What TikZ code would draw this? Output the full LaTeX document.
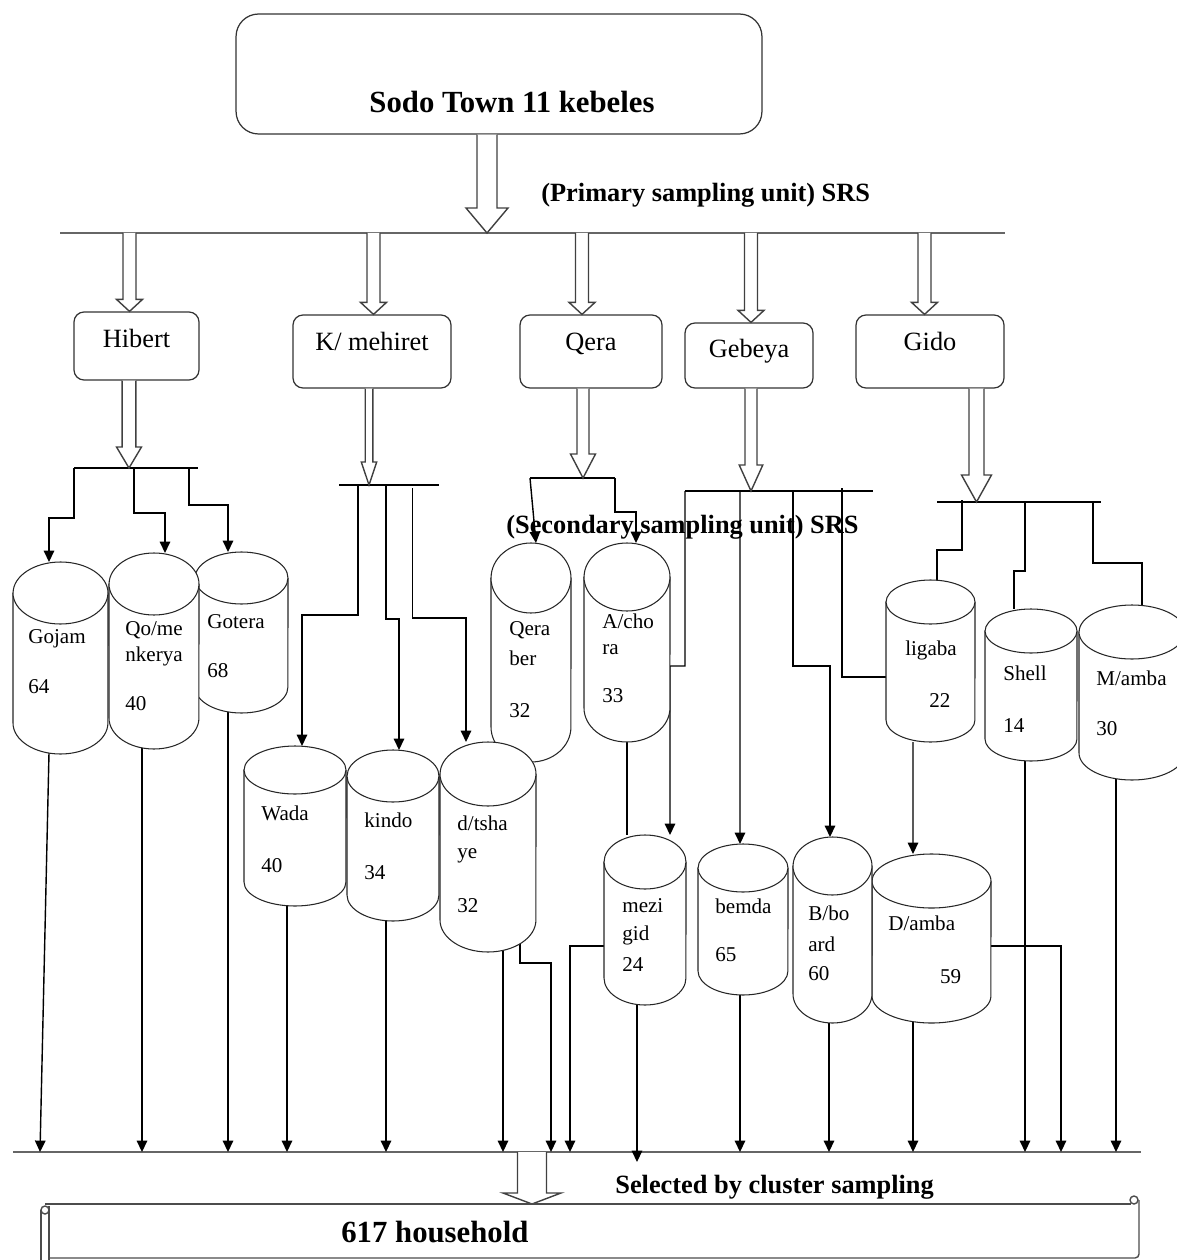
\documentclass[tikz,border=0pt]{standalone}
\usepackage{fontspec}
\setmainfont{Liberation Serif}
\usetikzlibrary{arrows.meta,calc,backgrounds}

\newdimen\pxu \pxu=0.02cm

% cylinder: name, left, right, top, bottom, cap half-height (all in px)
\newcommand\drum[6]{%
  \pgfmathsetmacro\drumrx{(#3-#2)*0.01}%
  \pgfmathsetmacro\drumry{#6*0.02}%
  \pgfmathsetmacro\drumw{(#3-#2)*0.02}%
  \pgfmathsetmacro\drumh{(#5-#4)*0.02}%
  \filldraw[drumline] (#2,#4+#6) -- (#2,#5-#6)
    arc[start angle=180, end angle=360, x radius=\drumrx cm, y radius=\drumry cm]
    -- (#3,#4+#6)
    arc[start angle=0, end angle=180, x radius=\drumrx cm, y radius=\drumry cm] -- cycle;
  \draw[drumline] (#2,#4+#6)
    arc[start angle=180, end angle=360, x radius=\drumrx cm, y radius=\drumry cm];
  \node[drumbox, minimum width=\drumw cm, minimum height=\drumh cm] (#1)
    at ({(#2+#3)/2},{(#4+#5)/2}) {};
}

% hollow arrow: tail, tip, shaft half-width, head half-width, head length (px)
\newcommand\fatarrow[5]{%
  \draw[fat] let \p1=(#1), \p2=(#2) in
    ({\x1-#3*\pxu},\y1) -- ({\x1-#3*\pxu},{\y2+#5*\pxu}) -- ({\x1-#4*\pxu},{\y2+#5*\pxu})
    -- (\x1,\y2) -- ({\x1+#4*\pxu},{\y2+#5*\pxu}) -- ({\x1+#3*\pxu},{\y2+#5*\pxu})
    -- ({\x1+#3*\pxu},\y1);
}

% straight drop from a cylinder to the bottom line
\newcommand\drop[2]{%
  \draw[arrw] ($(#1.center)+(#2,0)$) -- ($(#1.center |- botw)+(#2,0)$);
}

\begin{document}
\begin{tikzpicture}[x=0.02cm, y=-0.02cm,
  kebox/.style={draw=black!80, line width=0.7pt, rounded corners=0.2cm, inner sep=0pt,
                text height=0.7cm, font=\fontsize{15}{18}\selectfont},
  drumline/.style={draw=black!85, line width=0.6pt, fill=white},
  drumbox/.style={inner sep=0pt, outer sep=0pt},
  drumtext/.style={inner sep=0pt, anchor=north west, align=left,
                   font=\fontsize{12}{14}\selectfont},
  headline/.style={inner sep=0pt, anchor=base west,
                   font=\fontsize{15}{18}\selectfont\bfseries},
  fat/.style={draw=black!75, line width=0.8pt, fill=white},
  bus/.style={draw=black!60, line width=0.9pt},
  wire/.style={draw=black, line width=0.8pt},
  arrw/.style={wire, -{Triangle[length=6.5pt,width=6pt]}},
  scroll/.style={draw=black!70, line width=0.8pt},
]
\useasboundingbox (0,0) rectangle (1176,1260);

%%──────────────────────────────────────────────────────────────────
%% Lines and tap points
%%──────────────────────────────────────────────────────────────────
\coordinate (bus1w) at (60,233);   \coordinate (bus1e) at (1005,233);
\coordinate (t0) at (487,233);
\coordinate (t1) at (129.5,233);   \coordinate (t2) at (373.5,233);
\coordinate (t3) at (582,233);     \coordinate (t4) at (751,233);
\coordinate (t5) at (924.5,233);

\coordinate (hibw) at (74,468);    \coordinate (hibe) at (198,468);
\coordinate (kmw) at (339,485);    \coordinate (kme) at (439,485);
\coordinate (qrw) at (530,478);    \coordinate (qre) at (615,478);
\coordinate (gbw) at (685,491);    \coordinate (gbe) at (873,491);
\coordinate (gdw) at (937,502);    \coordinate (gde) at (1101,502);
\coordinate (botw) at (13,1152);   \coordinate (bote) at (1141,1152);

\coordinate (hibtap) at (129,468);
\coordinate (kmtap) at (369,485);
\coordinate (qrtap) at (583,478);
\coordinate (gbtap) at (751,491);
\coordinate (gdtap) at (976.5,502);
\coordinate (bottap) at (532,1152);
\coordinate (hhtop) at (532,1204);

%%──────────────────────────────────────────────────────────────────
%% Boxes: town and kebeles
%%──────────────────────────────────────────────────────────────────
\node[kebox, minimum width=10.52cm, minimum height=2.4cm, text height=1.98cm,
      text depth=0.42cm, rounded corners=0.45cm,
      font=\fontsize{17.5}{21}\selectfont\bfseries] (top) at (499,74)
      {\hspace*{0.52cm}Sodo Town 11 kebeles};

\node[kebox, minimum width=2.5cm, minimum height=1.36cm, text depth=0.66cm]
      (hibert) at (136.5,346) {Hibert};
\node[kebox, minimum width=3.16cm, minimum height=1.46cm, text depth=0.76cm]
      (kmehiret) at (372,351.5) {K/ mehiret};
\node[kebox, minimum width=2.84cm, minimum height=1.46cm, text depth=0.76cm]
      (qera) at (591,351.5) {Qera};
\node[kebox, minimum width=2.56cm, minimum height=1.3cm, text depth=0.6cm]
      (gebeya) at (749,355.5) {Gebeya};
\node[kebox, minimum width=2.96cm, minimum height=1.46cm, text depth=0.76cm]
      (gido) at (930,351.5) {Gido};

\node[headline] (psu) at (541,202) {(Primary sampling unit) SRS};

%%──────────────────────────────────────────────────────────────────
%% Cylinders: selected clusters
%%──────────────────────────────────────────────────────────────────
\drum{gojam}{13}{108}{562}{754}{31}
\drum{gotera}{195}{288}{552}{713}{26}
\drum{qomen}{109}{199}{553}{749}{31}
\drum{qeraber}{491}{571}{543}{762}{35}
\drum{achora}{584}{670}{543}{742}{34}
\drum{wada}{244}{346}{746}{906}{24}
\drum{kindo}{347}{439}{750}{921}{26}
\drum{dtshaye}{440}{536}{742}{952}{32}
\drum{ligaba}{886}{975}{580}{742}{22}
\drum{mamba}{1079}{1185}{605}{780}{27}
\drum{shell}{985}{1077}{609}{761}{22}
\drum{mezigid}{604}{686}{835}{1005}{27}
\drum{bemda}{698}{788}{844}{995}{24}
\drum{damba}{872}{991}{854}{1023}{27}
\drum{bboard}{793}{872}{837}{1023}{29}

%%──────────────────────────────────────────────────────────────────
%% Connectors (behind the cylinders)
%%──────────────────────────────────────────────────────────────────
\begin{scope}[on background layer]
\draw[bus] (bus1w) -- (bus1e);
\draw[bus] (botw) -- (bote);
\draw[wire] (hibw) -- (hibe);
\draw[wire] (kmw) -- (kme);
\draw[wire] (qrw) -- (qre);
\draw[wire] (gbw) -- (gbe);
\draw[wire] (gdw) -- (gde);

% Hibert
\draw[arrw] (hibw) -- ++(0,50) -| ([xshift=-0.23cm]gojam.north);
\draw[arrw] (hibw) ++(60,0) -- ++(0,45) -| ([xshift=0.22cm]qomen.north);
\draw[arrw] (hibw) ++(115,1) -- ++(0,36) -| ([xshift=-0.27cm]gotera.north);

% K/ mehiret
\draw[arrw] (kmw) ++(19,0) -- ++(0,130) -| ([xshift=0.14cm]wada.north);
\draw[arrw] (kmw) ++(47,0) -- ++(0,134) -| ([xshift=0.12cm]kindo.north);
\draw[arrw] (kmw) ++(73.5,3) -- ++(0,130) -| ([xshift=-0.44cm]dtshaye.north);

% Qera
\draw[arrw] (qrw) -- ([xshift=0.1cm]qeraber.north);
\draw[arrw] (qre) -- ++(0,34) -| ([xshift=0.18cm]achora.north);

% Gebeya
\draw[arrw] (gbw) -- ++(0,175) -- ++(-15,0) -- ([xshift=0.5cm]mezigid.north);
\draw[arrw] (gbw) ++(55,0) -- ([xshift=-0.06cm]bemda.north);
\draw[arrw] (gbw) ++(108,0) -- ++(0,175) -| ([xshift=-0.05cm]bboard.north);
\draw[wire] (gbw) ++(157,-3) |- ([yshift=-0.32cm]ligaba.west);

% Gido
\draw[wire] (gdw) ++(25,-2) -- ++(0,50) -| ([xshift=0.13cm]ligaba.north);
\draw[wire] (gdw) ++(88,0) -- ++(0,69) -| ([xshift=-0.34cm]shell.north);
\draw[wire] (gdw) ++(156,0) -- ++(0,61) -| ([xshift=0.2cm]mamba.north);

% between cylinders
\draw[wire] (achora.south) -- (achora.south |- mezigid.north);
\draw[arrw] ([xshift=-0.35cm]ligaba.south) -- ([xshift=-0.37cm]damba.north);

% down to the bottom line
\draw[arrw] ($(gojam.south)+(-11.5,-1)$) -- ($(botw)+(27,0)$);
\drop{qomen}{-12}
\drop{gotera}{-13.5}
\drop{wada}{-8}
\drop{kindo}{-7}
\drop{dtshaye}{15}
\drop{bemda}{-3}
\drop{bboard}{-3.5}
\drop{damba}{-18.5}
\drop{shell}{-6}
\drop{mamba}{-16}
\draw[arrw] ($(mezigid.center)+(-8,0)$) -- ($(mezigid.center |- botw)+(-8,10)$);
\draw[arrw] ($(dtshaye.center)+(32,0)$) -- ($(dtshaye.south)+(32,11)$) -| ($(botw)+(538,0)$);
\draw[arrw] ($(mezigid.center)+(0,26)$) -| ($(botw)+(557,0)$);
\draw[arrw] ($(damba.center)+(0,7.5)$) -| ($(botw)+(1048,0)$);
\end{scope}

%%──────────────────────────────────────────────────────────────────
%% Hollow arrows
%%──────────────────────────────────────────────────────────────────
\fatarrow{t0 |- top.south}{t0}{10}{21}{25}
\foreach \tp/\bx in {t1/hibert, t2/kmehiret, t3/qera, t4/gebeya, t5/gido}{
  \fatarrow{\tp}{\tp |- \bx.north}{6.5}{13}{12}
}
\fatarrow{hibtap |- hibert.south}{hibtap}{6.8}{12.5}{21}
\fatarrow{kmtap |- kmehiret.south}{kmtap}{3.8}{7.7}{23}
\fatarrow{qrtap |- qera.south}{qrtap}{6}{12.5}{24}
\fatarrow{gbtap |- gebeya.south}{gbtap}{6}{11.8}{26}
\fatarrow{gdtap |- gido.south}{gdtap}{7.5}{15}{27}
\fatarrow{bottap}{hhtop}{14.5}{29}{11}

%%──────────────────────────────────────────────────────────────────
%% Cylinder labels
%%──────────────────────────────────────────────────────────────────
\node[drumtext] (gojam-t) at (28,629) {Gojam\\[14.3pt]64};
\node[drumtext] (qomen-t) at (125,621) {Qo/me\\[0.7pt]nkerya\\[14.3pt]40};
\node[drumtext] (gotera-t) at (207,614) {Gotera\\[13.8pt]68};
\node[drumtext] (qeraber-t) at (509,621) {Qera\\[3pt]ber\\[15.5pt]32};
\node[drumtext] (achora-t) at (602,614) {A/cho\\[0.7pt]ra\\[13.2pt]33};
\node[drumtext] (wada-t) at (261,806) {Wada\\[15.5pt]40};
\node[drumtext] (kindo-t) at (364,813) {kindo\\[15.5pt]34};
\node[drumtext] (dtshaye-t) at (457,816) {d/tsha\\[1.9pt]ye\\[16.6pt]32};
\node[drumtext, anchor=north, align=center] (ligaba-t) at (931,641) {ligaba\\[15.5pt]\hspace*{10pt}22};
\node[drumtext] (shell-t) at (1003,666) {Shell\\[15.5pt]14};
\node[drumtext] (mamba-t) at (1096,671) {M/amba\\[14.3pt]30};
\node[drumtext] (mezigid-t) at (622,898) {mezi\\[1.9pt]gid\\[3.6pt]24};
\node[drumtext] (bemda-t) at (715,899) {bemda\\[13.2pt]65};
\node[drumtext] (bboard-t) at (808,906) {B/bo\\[3.6pt]ard\\[2.4pt]60};
\node[drumtext] (damba-t) at (888,916) {D/amba\\[16pt]\hspace*{29.5pt}59};

\node[headline] (ssu) at (506,533) {(Secondary sampling unit) SRS};

%%──────────────────────────────────────────────────────────────────
%% Households
%%──────────────────────────────────────────────────────────────────
\node[headline] (cluster) at (615,1193) {Selected by cluster sampling};

\draw[scroll] (45,1204) -- (1131,1204);
\draw[scroll] (1134,1200) circle[radius=0.08cm];
\draw[scroll, rounded corners=0.08cm] (1139,1200) -- (1139,1258) -- (49,1258);
\draw[scroll] (45,1210) circle[radius=0.08cm];
\draw[scroll] (41,1210) -- (41,1262);
\draw[scroll] (49,1206) -- (49,1262);

\node[headline, font=\fontsize{17.5}{21}\selectfont\bfseries] (hh) at (341,1242) {617 household};

\end{tikzpicture}
\end{document}
